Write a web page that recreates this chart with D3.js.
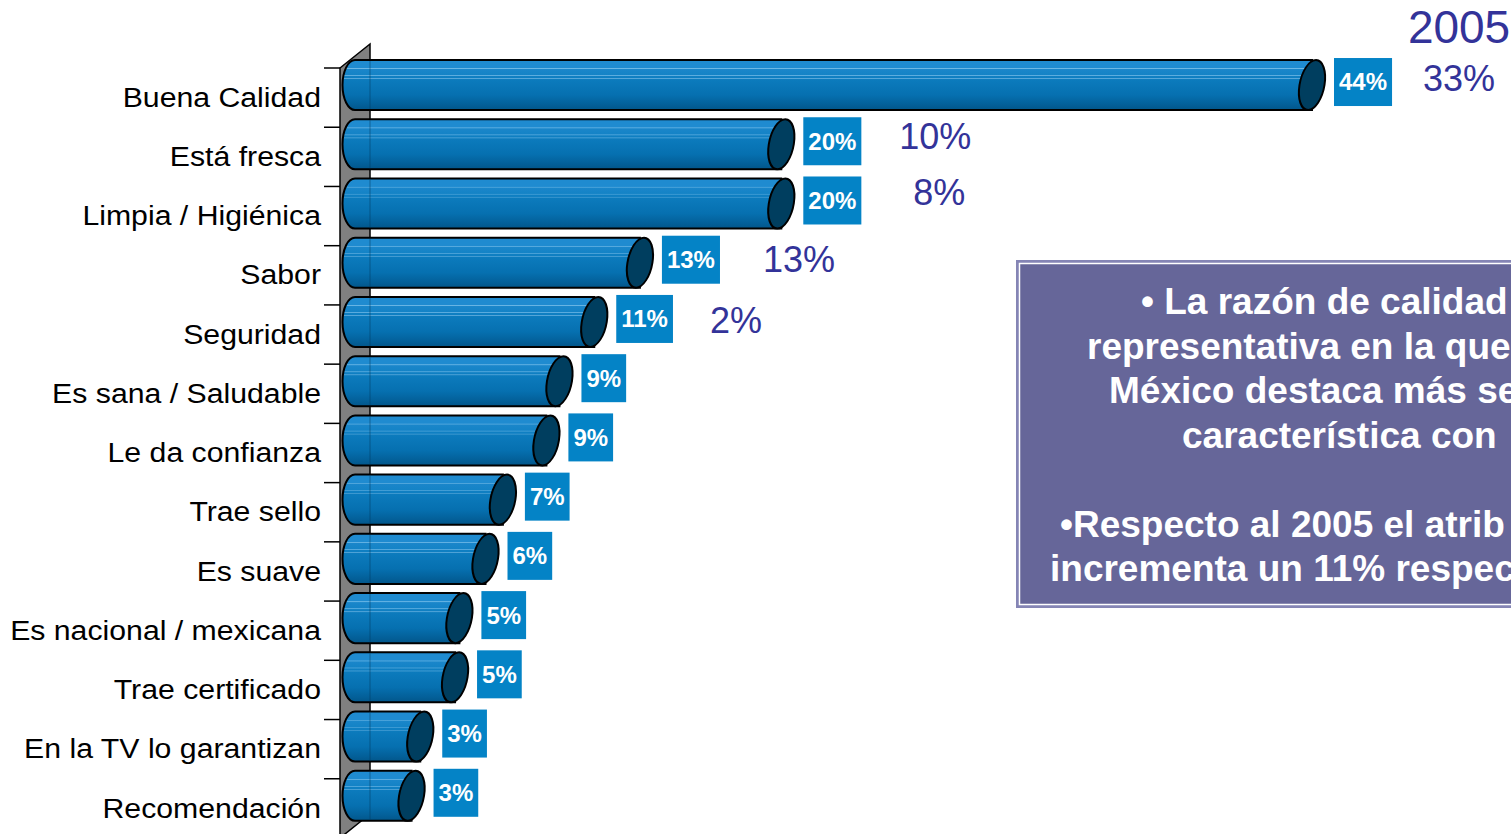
<!DOCTYPE html>
<html>
<head>
  <meta charset="utf-8">
  <title>Razones de compra</title>
  <style>
    body { margin: 0; background: #fff; }
    text { font-family: "Liberation Sans", Arial, sans-serif; }
  </style>
  <script src="https://d3js.org/d3.v7.min.js"></script>
</head>
<body>
  <svg id="chart" width="1511" height="834"></svg>
  <script>
    // categories, top to bottom
    const categories = ["Buena Calidad", "Está fresca", "Limpia / Higiénica", "Sabor", "Seguridad",
      "Es sana / Saludable", "Le da confianza", "Trae sello", "Es suave", "Es nacional / mexicana",
      "Trae certificado", "En la TV lo garantizan", "Recomendación"];
    // current values (%)
    const values = [44, 19.6, 19.6, 13.1, 11.0, 9.4, 8.8, 6.8, 6.0, 4.8, 4.6, 3.0, 2.6];
    // 2005 values for the first five categories
    const prevYear = "2005";
    const prevValues = [33, 10, 8, 13, 2];
    // note box text
    const noteLines = ["• La razón de calidad", "representativa en la que", "México destaca más se",
      "característica con", "", "•Respecto al 2005 el atrib", "incrementa un 11% respec"];

    const svg = d3.select("#chart");
    const defs = svg.append("defs");

    // cylinder body shading
    const grad = defs.append("linearGradient").attr("id", "barGrad")
      .attr("x1", 0).attr("y1", 0).attr("x2", 0).attr("y2", 1);
    [[0, "#1f8bd0"], [0.16, "#1f8bd0"], [0.17, "#6db8e6"], [0.19, "#1a86ca"], [0.3, "#1483c6"],
     [0.31, "#5eaee0"], [0.33, "#0f7fc2"], [0.36, "#0f7fc2"], [0.37, "#58a8da"], [0.39, "#0c7bbd"],
     [0.7, "#0670b0"], [0.9, "#035f98"], [1, "#02568a"]]
      .forEach(s => grad.append("stop").attr("offset", s[0]).attr("stop-color", s[1]));

    // scales
    const y = d3.scaleBand().domain(categories).range([68, 838]);
    const x = d3.scaleLinear().domain([0, 44]).range([355, 1312]);
    const barH = y.bandwidth() * 0.845;
    const lift = 8;
    const depthX = 30, depthY = 24;
    const rx = 12.5;

    // side wall
    const yTop = y.range()[0], yBot = y.range()[1];
    const wallX = 340;
    svg.append("path")
      .attr("d", `M${wallX},${yTop} L${wallX + depthX},${yTop - depthY} L${wallX + depthX},${yBot - depthY} L${wallX},${yBot} Z`)
      .attr("fill", "#808080").attr("stroke", "#000").attr("stroke-width", 1.5);

    // ticks between categories
    const ticks = categories.map(c => y(c)).concat([yBot]);
    svg.append("g").selectAll("line").data(ticks).join("line")
      .attr("x1", 324).attr("x2", wallX).attr("y1", d => d).attr("y2", d => d)
      .attr("stroke", "#000").attr("stroke-width", 1.5);

    // category labels
    svg.append("g").selectAll("g").data(categories).join("g")
      .attr("transform", d => `translate(321,${y(d) + y.bandwidth() / 2}) scale(1.12,1)`)
      .append("text")
      .attr("text-anchor", "end").attr("dy", "0.34em")
      .attr("font-size", 27).attr("fill", "#000")
      .text(d => d);

    // bars
    const bars = svg.append("g").selectAll("g").data(categories).join("g");
    const x0 = x(0);
    bars.append("path")
      .attr("d", (d, i) => {
        const t = y(d) - lift, xe = x(values[i]);
        return `M${x0},${t} L${xe},${t} L${xe},${t + barH} L${x0},${t + barH} A${rx},${barH / 2} 0 0 1 ${x0},${t} Z`;
      })
      .attr("fill", "url(#barGrad)").attr("stroke", "#000").attr("stroke-width", 2);
    bars.append("line")
      .attr("x1", wallX + depthX).attr("x2", wallX + depthX)
      .attr("y1", d => y(d) - lift + 1).attr("y2", d => y(d) - lift + barH - 1)
      .attr("stroke", "#003a60").attr("stroke-opacity", 0.35).attr("stroke-width", 1.5);
    bars.append("ellipse")
      .attr("transform", (d, i) => `translate(${x(values[i])},${y(d) - lift + barH / 2}) skewX(-9)`)
      .attr("rx", rx).attr("ry", barH / 2)
      .attr("fill", "#003e5f").attr("stroke", "#000").attr("stroke-width", 2);

    // value labels in boxes
    const boxH = 48;
    const boxEnds = [];
    bars.each(function (d, i) {
      const g = d3.select(this);
      const cy = y(d) - lift + barH / 2 - 3;
      const bx = x(values[i]) + 22;
      const rect = g.append("rect").attr("fill", "#0483c6");
      const txt = g.append("text")
        .attr("x", bx + 5).attr("y", cy).attr("dy", "0.35em")
        .attr("font-size", 24).attr("font-weight", "bold").attr("fill", "#fff")
        .text(Math.round(values[i]) + "%");
      const w = txt.node().getComputedTextLength() + 10;
      rect.attr("x", bx).attr("y", cy - boxH / 2).attr("width", w).attr("height", boxH);
      boxEnds.push(bx + w);
    });

    // 2005 comparison values, hand-placed beside the boxes
    const prevColor = "#333399";
    const prevGap = [67, 74, 78, 79, 63];
    svg.append("g").selectAll("text").data(prevValues).join("text")
      .attr("x", (d, i) => boxEnds[i] + prevGap[i])
      .attr("y", (d, i) => y(categories[i]) - lift + barH / 2 + [6, 5, 2, 9, 11][i])
      .attr("text-anchor", "middle").attr("font-size", 36).attr("fill", prevColor)
      .text(d => d + "%");
    svg.append("text")
      .attr("x", boxEnds[0] + prevGap[0]).attr("y", 43)
      .attr("text-anchor", "middle").attr("font-size", 46).attr("fill", prevColor)
      .text(prevYear);

    // note box
    svg.append("rect").attr("x", 1016).attr("y", 260).attr("width", 600).attr("height", 348)
      .attr("fill", "#8585b5");
    svg.append("rect").attr("x", 1019.5).attr("y", 263.5).attr("width", 600).attr("height", 341)
      .attr("fill", "#666699").attr("stroke", "#fff").attr("stroke-width", 1.5);
    const noteX = [1141, 1087, 1109, 1182, 0, 1060, 1050];
    svg.append("g").selectAll("text").data(noteLines).join("text")
      .attr("x", (d, i) => noteX[i]).attr("y", (d, i) => 314 + i * 44.5)
      .attr("font-size", 37).attr("font-weight", "bold").attr("fill", "#fff")
      .text(d => d);
  </script>
</body>
</html>
